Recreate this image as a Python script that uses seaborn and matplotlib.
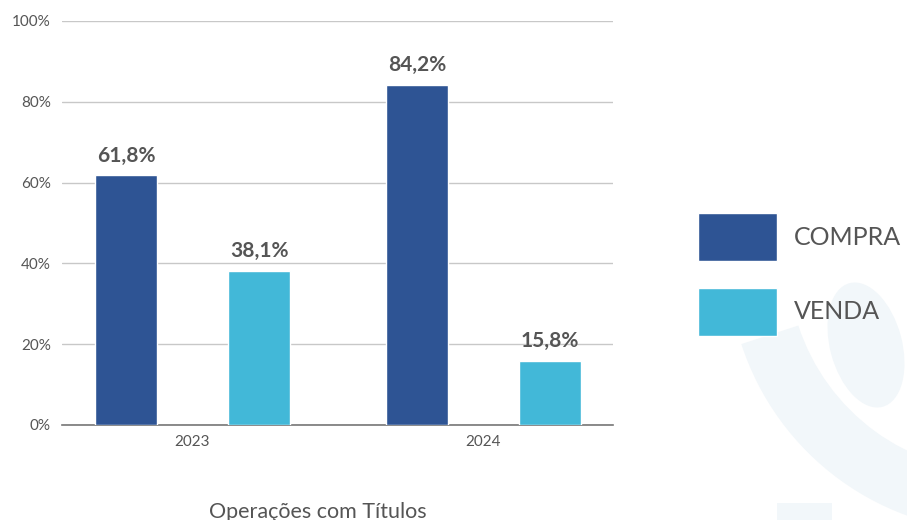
import numpy as np
import pandas as pd
import matplotlib
matplotlib.use("Agg")
import matplotlib.pyplot as plt
import seaborn as sns
from matplotlib.patches import Wedge, Ellipse, Patch, Rectangle

# data
years = ["2023", "2024"]
operations = ["COMPRA", "VENDA"]
compra = [61.8, 84.2]
venda = [38.1, 15.8]
yticks = [0, 20, 40, 60, 80, 100]

COLORS = {"COMPRA": "#2E5494", "VENDA": "#42B8D8"}
TEXT = "#555555"

df = pd.DataFrame({
    "ano": years * 2,
    "operacao": ["COMPRA"] * len(years) + ["VENDA"] * len(years),
    "valor": compra + venda,
})

sns.set_theme(style="white")
plt.rcParams["font.family"] = ["Lato", "DejaVu Sans"]

fig = plt.figure(figsize=(9.07, 5.2), dpi=100)

# faint watermark in the background (pixel coordinates, y pointing down)
bg = fig.add_axes([0, 0, 1, 1], zorder=0)
bg.set_xlim(0, 907)
bg.set_ylim(520, 0)
bg.axis("off")
wm = "#F2F7FA"
bg.add_patch(Wedge((1000, 260), 272, 90, 162, width=60, color=wm, lw=0))
bg.add_patch(Ellipse((866, 345), 72, 128, angle=-15, color=wm, lw=0))
bg.add_patch(Rectangle((777, 503), 55, 20, color=wm, lw=0))

ax = fig.add_axes([62 / 907, 95 / 520, 551 / 907, 404 / 520], zorder=1)
ax.patch.set_alpha(0)

sns.barplot(data=df, x="ano", y="valor", hue="operacao", order=years,
            hue_order=operations, palette=COLORS, width=0.914, gap=0.534,
            saturation=1, legend=False, ax=ax, zorder=3)

for cont in ax.containers:
    ax.bar_label(cont, labels=[f"{v:.1f}%".replace(".", ",") for v in cont.datavalues],
                 padding=7, fontsize=15, fontweight="bold", color=TEXT)

ax.set_ylim(0, 100)
ax.set_xlim(-0.4485, 1.445)
ax.set_yticks(yticks)
ax.set_yticklabels([f"{t}%" for t in yticks])
ax.yaxis.grid(True, color="#C8C8C8", linewidth=1)
ax.set_axisbelow(True)
for s in ["top", "right", "left"]:
    ax.spines[s].set_visible(False)
ax.spines["bottom"].set_color("#777777")
ax.spines["bottom"].set_linewidth(1.2)
ax.tick_params(axis="both", length=0, labelsize=11, colors=TEXT)
ax.tick_params(axis="y", pad=8)
ax.tick_params(axis="x", pad=7)
ax.set_ylabel("")
ax.set_xlabel("Operações com Títulos", fontsize=15.5, color=TEXT, labelpad=38)
ax.xaxis.label.set_x(0.465)

handles = [Patch(facecolor=COLORS[o], label=o) for o in operations]
fig.legend(handles=handles, loc="upper left", bbox_to_anchor=(698 / 907, 1 - 213 / 520),
           frameon=False, fontsize=18, handlelength=3.15, handleheight=2.6,
           labelspacing=1.05, handletextpad=0.68, borderpad=0, borderaxespad=0,
           labelcolor=TEXT)

fig.savefig("out.png", dpi=100)
